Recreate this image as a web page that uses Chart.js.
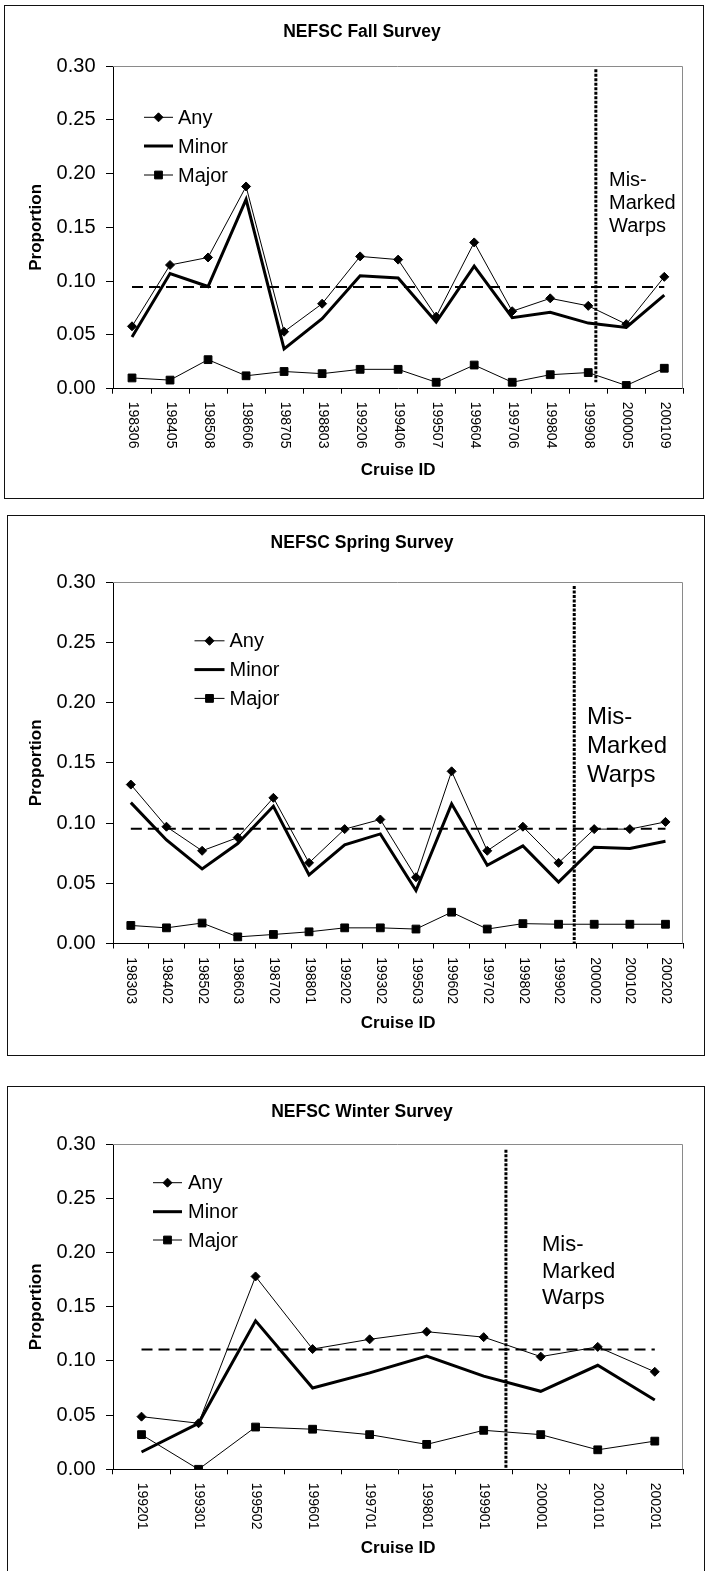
<!DOCTYPE html>
<html>
<head>
<meta charset="utf-8">
<script src="https://cdn.jsdelivr.net/npm/chart.js@4"></script>
<style>
  body { margin: 0; background: #fff; }
  .page { position: relative; width: 705px; height: 1571px; overflow: hidden; }
  .box { position: absolute; border: 1px solid #111; box-sizing: border-box; }
  canvas { position: absolute; left: 0; }
</style>
</head>
<body>
<div class="page">
  <div class="box" style="left:4px; top:5px; width:700px; height:494px;"></div>
  <div class="box" style="left:7px; top:515px; width:698px; height:541px;"></div>
  <div class="box" style="left:7px; top:1086px; width:698px; height:520px;"></div>
  <canvas id="fallChart" width="705" height="505" style="top:0px"></canvas>
  <canvas id="springChart" width="705" height="570" style="top:505px"></canvas>
  <canvas id="winterChart" width="705" height="496" style="top:1075px"></canvas>
</div>
<script>
// Fall survey
const fallCruises = ['198306', '198405', '198508', '198606', '198705', '198803', '199206', '199406', '199507', '199604', '199706', '199804', '199908', '200005', '200109'];
const fallAny = [0.058, 0.115, 0.122, 0.188, 0.053, 0.079, 0.123, 0.120, 0.067, 0.136, 0.072, 0.084, 0.077, 0.060, 0.104];
const fallMinor = [0.048, 0.107, 0.095, 0.176, 0.037, 0.065, 0.105, 0.103, 0.062, 0.114, 0.066, 0.071, 0.061, 0.057, 0.087];
const fallMajor = [0.010, 0.008, 0.027, 0.012, 0.016, 0.014, 0.018, 0.018, 0.006, 0.022, 0.006, 0.013, 0.015, 0.003, 0.019];
const fallMean = 0.0945;
const fallWarp = [12.2, 0.006, 0.297]; // category position, line bottom, line top

// Spring survey
const springCruises = ['198303', '198402', '198502', '198603', '198702', '198801', '199202', '199302', '199503', '199602', '199702', '199802', '199902', '200002', '200102', '200202'];
const springAny = [0.132, 0.097, 0.077, 0.088, 0.121, 0.067, 0.095, 0.103, 0.055, 0.143, 0.077, 0.097, 0.067, 0.095, 0.095, 0.101];
const springMinor = [0.117, 0.086, 0.062, 0.083, 0.114, 0.057, 0.082, 0.091, 0.044, 0.116, 0.065, 0.081, 0.051, 0.080, 0.079, 0.085];
const springMajor = [0.015, 0.013, 0.017, 0.0055, 0.0075, 0.0097, 0.013, 0.013, 0.012, 0.026, 0.012, 0.0165, 0.016, 0.016, 0.016, 0.016];
const springMean = 0.0954;
const springWarp = [12.44, 0, 0.297];

// Winter survey
const winterCruises = ['199201', '199301', '199502', '199601', '199701', '199801', '199901', '200001', '200101', '200201'];
const winterAny = [0.0486, 0.0425, 0.178, 0.111, 0.120, 0.127, 0.122, 0.104, 0.113, 0.090];
const winterMinor = [0.016, 0.0425, 0.137, 0.075, 0.089, 0.1046, 0.086, 0.072, 0.096, 0.064];
const winterMajor = [0.032, 0.0, 0.039, 0.037, 0.032, 0.023, 0.036, 0.032, 0.018, 0.026];
const winterMean = 0.1105;
const winterWarp = [6.39, 0, 0.295];

const yTicks = [0, 0.05, 0.10, 0.15, 0.20, 0.25, 0.30];
const seriesNames = ['Any', 'Minor', 'Major'];

const FONT = '"Liberation Sans", Arial, Helvetica, sans-serif';

function diamond(ctx, x, y, r) {
    ctx.beginPath();
    ctx.moveTo(x - r, y);
    ctx.lineTo(x, y - r);
    ctx.lineTo(x + r, y);
    ctx.lineTo(x, y + r);
    ctx.closePath();
    ctx.fill();
    ctx.stroke();
}

function square(ctx, x, y, r) {
    const s = Math.SQRT1_2 * r;
    ctx.beginPath();
    ctx.rect(x - s, y - s, 2 * s, 2 * s);
    ctx.fill();
    ctx.stroke();
}

// draws title, legend, reference lines, rotated x labels and notes
const decor = {
    id: 'decor',
    afterDatasetsDraw(chart, args, o) {
        const { ctx, chartArea: a, scales: { x, y } } = chart;
        const n = chart.data.labels.length;
        ctx.save();

        // thin grey frame top and right
        ctx.strokeStyle = '#8a8a8a';
        ctx.lineWidth = 1;
        ctx.beginPath();
        ctx.moveTo(a.left, Math.round(a.top) + 0.5);
        ctx.lineTo(Math.round(a.right) - 0.5, Math.round(a.top) + 0.5);
        ctx.lineTo(Math.round(a.right) - 0.5, a.bottom);
        ctx.stroke();

        // mean line
        ctx.strokeStyle = '#000';
        ctx.lineWidth = 2;
        ctx.setLineDash([11, 6]);
        const ym = y.getPixelForValue(o.mean);
        ctx.beginPath();
        ctx.moveTo(x.getPixelForValue(0), ym);
        ctx.lineTo(x.getPixelForValue(n - 1), ym);
        ctx.stroke();

        // mis-marked warps divider
        const [pos, lo, hi] = o.warp;
        const i0 = Math.floor(pos);
        const p0 = x.getPixelForValue(i0);
        const xw = p0 + (pos - i0) * (x.getPixelForValue(i0 + 1) - p0);
        ctx.lineWidth = 3;
        ctx.setLineDash([3, 1.5]);
        ctx.beginPath();
        ctx.moveTo(xw, y.getPixelForValue(hi));
        ctx.lineTo(xw, y.getPixelForValue(lo));
        ctx.stroke();
        ctx.setLineDash([]);

        ctx.fillStyle = '#000';

        // x tick labels, reading downwards
        ctx.font = '14px ' + FONT;
        ctx.textAlign = 'left';
        ctx.textBaseline = 'middle';
        chart.data.labels.forEach((lab, i) => {
            ctx.save();
            ctx.translate(x.getPixelForValue(i) + 0.5, a.bottom + o.labelGap);
            ctx.rotate(Math.PI / 2);
            ctx.fillText(lab, 0, 0);
            ctx.restore();
        });

        // titles
        ctx.textAlign = 'center';
        ctx.font = 'bold 17.5px ' + FONT;
        ctx.fillText(o.title, 362, o.titleY);
        ctx.font = 'bold 17px ' + FONT;
        ctx.fillText('Cruise ID', (a.left + a.right) / 2, a.bottom + o.xTitleGap);
        ctx.save();
        ctx.translate(36, (a.top + a.bottom) / 2);
        ctx.rotate(-Math.PI / 2);
        ctx.fillText('Proportion', 0, 0);
        ctx.restore();

        // legend
        const L = o.legend;
        ctx.textAlign = 'left';
        ctx.font = '20px ' + FONT;
        seriesNames.forEach((name, k) => {
            const ly = L.rows[k];
            ctx.strokeStyle = '#000';
            ctx.lineWidth = k === 1 ? 3 : 1;
            ctx.beginPath();
            ctx.moveTo(L.x1, ly);
            ctx.lineTo(L.x2, ly);
            ctx.stroke();
            ctx.lineWidth = 1;
            if (k === 0) diamond(ctx, (L.x1 + L.x2) / 2, ly, 4.5);
            if (k === 2) square(ctx, (L.x1 + L.x2) / 2, ly, 5.5);
            ctx.fillText(name, L.xText, ly + 1);
        });

        // note
        ctx.font = o.note.size + 'px ' + FONT;
        ['Mis-', 'Marked', 'Warps'].forEach((t, k) => {
            ctx.fillText(t, o.note.x, o.note.rows[k]);
        });

        ctx.restore();
    }
};

function makeChart(id, labels, any, minor, major, opts) {
    return new Chart(document.getElementById(id), {
        type: 'line',
        data: {
            labels: labels,
            datasets: [
                { label: 'Minor', data: minor, borderColor: '#000', borderWidth: 3, pointRadius: 0, tension: 0 },
                { label: 'Major', data: major, borderColor: '#000', borderWidth: 1, pointStyle: 'rect', pointRadius: 5.5,
                  pointBackgroundColor: '#000', pointBorderColor: '#000', pointBorderWidth: 1, tension: 0 },
                { label: 'Any', data: any, borderColor: '#000', borderWidth: 1, pointStyle: 'rectRot', pointRadius: 4.5,
                  pointBackgroundColor: '#000', pointBorderColor: '#000', pointBorderWidth: 1, tension: 0 }
            ]
        },
        options: {
            responsive: false,
            animation: false,
            layout: { padding: { left: 0, top: opts.top, right: 21.7, bottom: opts.bottom } },
            scales: {
                x: {
                    type: 'category',
                    offset: true,
                    grid: { offset: true, drawOnChartArea: false, tickLength: 5, color: '#000' },
                    border: { color: '#000', width: 1 },
                    ticks: { display: false },
                    afterFit(scale) { scale.height = 60; }
                },
                y: {
                    min: 0,
                    max: 0.3,
                    afterBuildTicks(scale) { scale.ticks = yTicks.map(v => ({ value: v })); },
                    grid: { drawOnChartArea: false, tickLength: 7, color: '#000' },
                    border: { color: '#000', width: 1 },
                    ticks: {
                        color: '#000',
                        padding: 10.5,
                        font: { family: FONT, size: 20 },
                        callback: v => v.toFixed(2)
                    },
                    afterFit(scale) { scale.width = 113; }
                }
            },
            plugins: {
                legend: { display: false },
                tooltip: { enabled: false },
                decor: opts.decor
            }
        },
        plugins: [decor]
    });
}

makeChart('fallChart', fallCruises, fallAny, fallMinor, fallMajor, {
    top: 66, bottom: 56.3,
    decor: {
        title: 'NEFSC Fall Survey', titleY: 32, mean: fallMean, warp: fallWarp,
        labelGap: 13, xTitleGap: 81.3,
        legend: { x1: 144, x2: 173, xText: 178, rows: [117.3, 146, 175] },
        note: { x: 609, size: 20, rows: [180, 203.3, 226] }
    }
});

makeChart('springChart', springCruises, springAny, springMinor, springMajor, {
    top: 77.3, bottom: 71.5,
    decor: {
        title: 'NEFSC Spring Survey', titleY: 38.3, mean: springMean, warp: springWarp,
        labelGap: 13.7, xTitleGap: 80.3,
        legend: { x1: 194.5, x2: 224.5, xText: 229.5, rows: [135.8, 164.6, 193.4] },
        note: { x: 587, size: 24, rows: [212.7, 241.4, 270.5] }
    }
});

makeChart('winterChart', winterCruises, winterAny, winterMinor, winterMajor, {
    top: 69.3, bottom: 41.7,
    decor: {
        title: 'NEFSC Winter Survey', titleY: 36.7, mean: winterMean, warp: winterWarp,
        labelGap: 13.4, xTitleGap: 78.7,
        legend: { x1: 153, x2: 182, xText: 188, rows: [107.7, 136.7, 165] },
        note: { x: 542, size: 22, rows: [170, 196.7, 223.3] }
    }
});
</script>
</body>
</html>
